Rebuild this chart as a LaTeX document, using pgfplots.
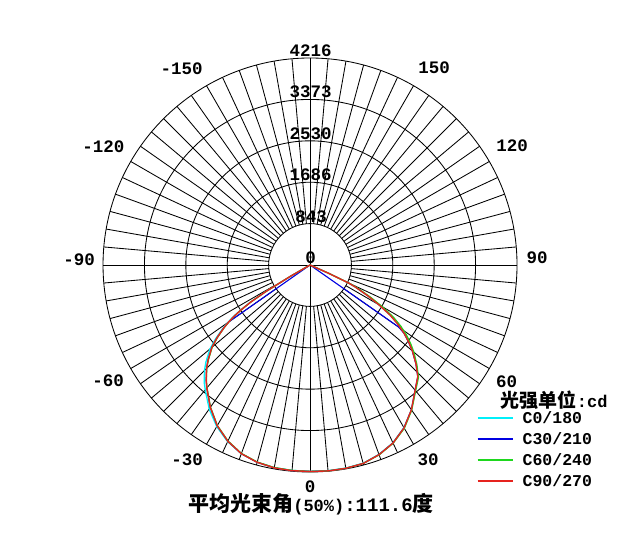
\documentclass[border=0pt]{standalone}
\usepackage{fontspec}
\usepackage{pgfplots}
\usepackage{pgfplotstable}
\pgfplotsset{compat=1.18}
\newfontfamily\mono{Liberation Mono}
\newfontfamily\cjk{Noto Sans CJK SC}
\definecolor{ccyan}{RGB}{0,240,250}
\definecolor{cblue}{RGB}{0,0,225}
\definecolor{cgreen}{RGB}{30,215,30}
\definecolor{cred}{RGB}{230,35,30}
\newcommand\lbl{\mono\bfseries\fontsize{17.5}{18}\selectfont}

% C90/270
\pgfplotstableread{
g I
-90 0
-61 0
-60 450
-59 1050
-58 1420
-57 1660
-56 1860
-55 2020
-54 2160
-52 2400
-50 2610
-47 2840
-45 2980
-42 3160
-40 3270
-35 3540
-30 3780
-25 3960
-20 4090
-15 4160
-10 4195
-5 4205
0 4205
5 4210
10 4205
15 4185
20 4110
25 4000
30 3830
35 3600
40 3330
44 3160
47 2950
50 2720
52 2550
54 2370
56 2160
58 1920
60 1620
62 1320
64 1030
65 860
66 400
67 0
90 0
}\dataRed
% C0/180
\pgfplotstableread{
g I
-90 0
-61 0
-60 480
-59 1080
-58 1450
-57 1690
-56 1890
-55 2050
-54 2190
-52 2440
-50 2660
-47 2900
-45 3040
-42 3220
-40 3320
-35 3580
-30 3800
-25 3970
-20 4090
-15 4160
-10 4190
-5 4200
0 4200
5 4205
10 4200
15 4180
20 4105
25 3995
30 3825
35 3600
40 3335
44 3165
47 2955
50 2720
52 2550
54 2370
56 2160
58 1920
60 1620
62 1320
64 1030
65 860
66 400
67 0
90 0
}\dataCyan
% C30/210
\pgfplotstableread{
g I
-90 0
-60 0
-55 2020
-54 2160
-52 2400
-50 2610
-47 2840
-45 2980
-42 3160
-40 3270
-35 3540
-30 3780
-25 3960
-20 4090
-15 4160
-10 4195
-5 4205
0 4205
5 4210
10 4205
15 4185
20 4110
25 4000
30 3830
35 3600
40 3330
44 3160
47 2950
50 2720
52 2550
54 2370
55 2200
60 0
90 0
}\dataBlue
% C60/240
\pgfplotstableread{
g I
-90 0
-61 0
-60 440
-59 1040
-58 1410
-57 1650
-56 1850
-55 2010
-54 2150
-52 2390
-50 2600
-47 2830
-45 2975
-42 3155
-40 3265
-35 3535
-30 3775
-25 3955
-20 4085
-15 4155
-10 4190
-5 4200
0 4205
5 4210
10 4205
15 4185
20 4115
25 4005
30 3840
35 3610
40 3345
44 3180
47 2975
50 2760
52 2600
54 2430
56 2230
58 2000
60 1700
62 1390
64 1080
65 890
66 420
67 0
90 0
}\dataGreen

\begin{document}
\begin{tikzpicture}
\begin{axis}[
  x=0.049099pt, y=0.049099pt,
  xmin=-6314, xmax=6802, ymin=-5947, ymax=5397,
  axis line style={draw=none}, xtick=\empty, ytick=\empty,
  clip=false,
  legend style={at={(0.7402,0.2630)}, anchor=north west, draw=none, fill=none,
    inner sep=0pt, outer sep=0pt, row sep=5.6pt,
    font=\mono\bfseries\fontsize{16.5}{17}\selectfont,
    nodes={inner xsep=5pt, inner ysep=1pt},
    /tikz/every odd column/.append style={column sep=4pt}},
  legend cell align=left,
  legend image code/.code={\draw[#1] (0pt,0pt) -- (35pt,0pt);},
]
\coordinate (O) at (axis cs:0,0);
\pgfplotsinvokeforeach{41.39,82.78,124.17,165.56,207}{
  \draw[line width=0.85pt] (O) circle[radius=#1pt];
}
\pgfplotsinvokeforeach{0,5,...,355}{
  \draw[line width=0.85pt] ([shift={(#1:41.39pt)}]O) -- ([shift={(#1:207pt)}]O);
}
\draw[line width=0.85pt] ([shift={(0:207pt)}]O) -- ([shift={(180:207pt)}]O);
\draw[line width=0.85pt] ([shift={(90:207pt)}]O) -- ([shift={(270:207pt)}]O);

\addplot[ccyan, line width=1.3pt, forget plot] table[x expr={\thisrow{I}*sin(\thisrow{g})}, y expr={-\thisrow{I}*cos(\thisrow{g})}] {\dataCyan};
\addplot[cblue, line width=1.1pt, forget plot] table[x expr={\thisrow{I}*sin(\thisrow{g})}, y expr={-\thisrow{I}*cos(\thisrow{g})}] {\dataBlue};
\addplot[cgreen, line width=1.3pt, forget plot] table[x expr={\thisrow{I}*sin(\thisrow{g})}, y expr={-\thisrow{I}*cos(\thisrow{g})}] {\dataGreen};
\addplot[cred, line width=1.4pt, forget plot] table[x expr={\thisrow{I}*sin(\thisrow{g})}, y expr={-\thisrow{I}*cos(\thisrow{g})}] {\dataRed};
\addlegendimage{ccyan, line width=2pt}
\addlegendentry{C0/180}
\addlegendimage{cblue, line width=2pt}
\addlegendentry{C30/210}
\addlegendimage{cgreen, line width=2pt}
\addlegendentry{C60/240}
\addlegendimage{cred, line width=2pt}
\addlegendentry{C90/270}

% ring labels
\node[font=\lbl] at ([shift={(0.5pt,214.5pt)}]O) {4216};
\node[font=\lbl] at ([shift={(0.5pt,173.7pt)}]O) {3373};
\node[font=\lbl] at ([shift={(0.5pt,131.7pt)}]O) {2530};
\node[font=\lbl] at ([shift={(0.5pt,90.3pt)}]O) {1686};
\node[font=\lbl] at ([shift={(1pt,48.3pt)}]O) {843};
\node[font=\lbl] at ([shift={(0.5pt,7pt)}]O) {0};
% angle labels
\node[font=\lbl] at ([shift={(-128.3pt,196.3pt)}]O) {-150};
\node[font=\lbl] at ([shift={(-206.7pt,118.3pt)}]O) {-120};
\node[font=\lbl] at ([shift={(-231pt,5.5pt)}]O) {-90};
\node[font=\lbl] at ([shift={(-202pt,-116pt)}]O) {-60};
\node[font=\lbl] at ([shift={(-123pt,-195pt)}]O) {-30};
\node[font=\lbl] at ([shift={(0pt,-222pt)}]O) {0};
\node[font=\lbl] at ([shift={(118pt,-195pt)}]O) {30};
\node[font=\lbl] at ([shift={(196.7pt,-116.7pt)}]O) {60};
\node[font=\lbl] at ([shift={(227pt,7pt)}]O) {90};
\node[font=\lbl] at ([shift={(202pt,119pt)}]O) {120};
\node[font=\lbl] at ([shift={(124pt,197pt)}]O) {150};
% legend header
\node[anchor=west, inner sep=0pt] at ([shift={(190.7pt,-135pt)}]O)
  {\cjk\bfseries\fontsize{19}{20}\selectfont 光强单位{\mono\bfseries\fontsize{17}{18}\selectfont:cd}};
% title
\node[inner sep=0pt] at ([shift={(1pt,-239.5pt)}]O)
  {\cjk\bfseries\fontsize{21}{22}\selectfont 平均光束角{\mono\bfseries\fontsize{17}{18}\selectfont(50\%)}{\mono\bfseries\fontsize{19}{20}\selectfont:111.6}度};
\path (axis cs:-6314,-5947) rectangle (axis cs:6802,5397);
\end{axis}
\end{tikzpicture}
\end{document}
